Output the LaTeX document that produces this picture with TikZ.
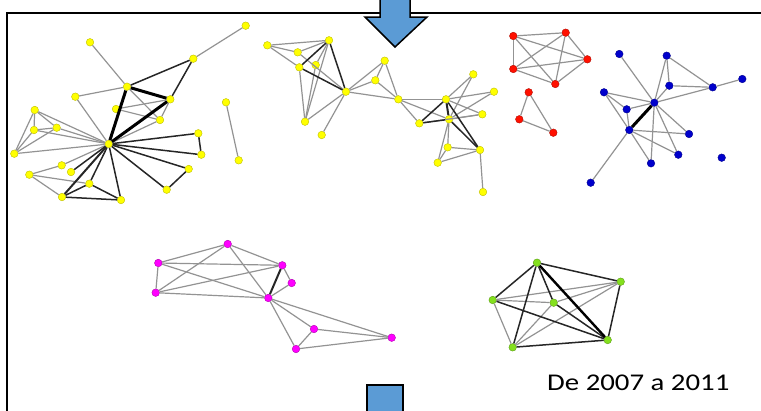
\documentclass[tikz,border=0pt]{standalone}
\usepackage{fontspec}
\setmainfont{Carlito}
\definecolor{arrowblue}{HTML}{5B9BD5}
\definecolor{edgegray}{HTML}{939393}
\definecolor{ygold}{HTML}{FFFF00}
\definecolor{nred}{HTML}{FF1000}
\definecolor{nblue}{HTML}{0000CC}
\definecolor{nmag}{HTML}{FF00FF}
\definecolor{ngreen}{HTML}{84E01E}
\tikzset{
  vtx/.style={circle,inner sep=0pt,minimum size=7.6pt,line width=0.4pt},
  yv/.style={vtx,fill=ygold,draw=ygold!75!black},
  rv/.style={vtx,fill=nred,draw=nred!70!black},
  bv/.style={vtx,fill=nblue,draw=nblue!70!black},
  mv/.style={vtx,fill=nmag,draw=nmag!70!black},
  gv/.style={vtx,fill=ngreen,draw=ngreen!70!black},
  ge/.style={draw=edgegray,line width=1.2pt},
  de/.style={draw=black!85,line width=1.5pt},
  te/.style={draw=black,line width=3pt},
  bluearrow/.style={fill=arrowblue,draw=black,line width=1.5pt,line join=miter},
}
\begin{document}
\begin{tikzpicture}[x=1pt,y=-1pt]
\useasboundingbox (0,0) rectangle (761,410);
\clip (0,0) rectangle (761,410);
% frame
\draw[line width=2.2pt] (7,430) -- (7,13) -- (780,13);
% top arrow
\draw[bluearrow] (380,-5) -- (380,17) -- (365,17) -- (395,47) -- (427,17) -- (410,17) -- (410,-5) -- cycle;
% bottom arrow stem
\draw[bluearrow] (367,430) -- (367,385) -- (403,385) -- (403,430);
% text
\node[anchor=base west,inner sep=0pt,font=\fontsize{24}{24}\selectfont] (lbl) at (547,390) {\scalebox{1.2}[1]{De 2007 a 2011}};

% ---------- left yellow cluster ----------
\node[yv] (a1) at (245.7,25.7) {};
\node[yv] (a2) at (193.3,58.7) {};
\node[yv] (a3) at (90,42.3) {};
\node[yv] (a4) at (127,86.7) {};
\node[yv] (a5) at (75.3,96.7) {};
\node[yv] (a6) at (170.3,99.3) {};
\node[yv] (a7) at (116,109) {};
\node[yv] (a8) at (160,120) {};
\node[yv] (a9) at (226,102.3) {};
\node[yv] (a10) at (238.7,160.3) {};
\node[yv] (a11) at (34.7,110) {};
\node[yv] (a12) at (34,130) {};
\node[yv] (a13) at (56.7,127.7) {};
\node[yv] (a14) at (14.3,153.7) {};
\node[yv] (h) at (108.7,144) {};
\node[yv] (a15) at (198.3,133.3) {};
\node[yv] (a16) at (201.3,154.7) {};
\node[yv] (a17) at (188.7,169) {};
\node[yv] (a18) at (166.7,189.7) {};
\node[yv] (a19) at (61.7,165.3) {};
\node[yv] (a20) at (71,172) {};
\node[yv] (a21) at (29.3,174.7) {};
\node[yv] (a22) at (89.3,183.7) {};
\node[yv] (a23) at (62,197) {};
\node[yv] (a24) at (121,200) {};
\foreach \u/\v in {a1/a2,a3/a4,a5/a4,a5/h,a4/a8,a7/a6,a7/a8,a6/a8,h/a8,a11/a12,a11/a14,a11/a13,a11/h,a12/a13,a12/h,a12/a14,a13/a14,a14/h,a13/h,a21/a19,a21/a23,a21/a22,a19/h,a9/a10}
  \draw[ge] (\u) -- (\v);
\foreach \u/\v in {a4/a2,a2/a6,a20/h,a22/h,a24/h,a22/a23,a23/a24,a22/a24,h/a15,h/a16,a15/a16,h/a17,h/a18,a17/a18}
  \draw[de] (\u) -- (\v);
\foreach \u/\v in {a4/a6,a4/h,a6/h}
  \draw[te] (\u) -- (\v);
\draw[de,line width=2pt] (a23) -- (h);

% ---------- middle yellow cluster ----------
\node[yv] (b1) at (267.3,45.3) {};
\node[yv] (b2) at (329,40.3) {};
\node[yv] (b3) at (297.7,52.3) {};
\node[yv] (b4) at (299.3,67.3) {};
\node[yv] (b5) at (315.7,65) {};
\node[yv] (b6) at (346,91.7) {};
\node[yv] (b7) at (305,121.7) {};
\node[yv] (b8) at (321.7,135) {};
\node[yv] (b9) at (384.7,60.7) {};
\node[yv] (b10) at (375.3,80.3) {};
\node[yv] (b11) at (398.3,99.3) {};
\node[yv] (b12) at (446,99.3) {};
\node[yv] (b13) at (419.3,123.3) {};
\node[yv] (b14) at (449,119.3) {};
\node[yv] (b15) at (473.3,74.3) {};
\node[yv] (b16) at (494,91.7) {};
\node[yv] (b17) at (482.3,114.3) {};
\node[yv] (b18) at (447.7,147.3) {};
\node[yv] (b19) at (480,150) {};
\node[yv] (b20) at (437.7,162.7) {};
\node[yv] (b21) at (483,192) {};
\foreach \u/\v in {b1/b2,b1/b3,b1/b4,b3/b2,b5/b2,b3/b6,b4/b7,b5/b7,b2/b7,b7/b6,b8/b6,b6/b9,b6/b10,b6/b11,b9/b10,b9/b11,b10/b11,b11/b12,b11/b13,b11/b14,b12/b15,b12/b16,b12/b17,b14/b15,b14/b16,b14/b17,b13/b17,b14/b18,b14/b20,b18/b19,b20/b19,b18/b20,b19/b21}
  \draw[ge] (\u) -- (\v);
\foreach \u/\v in {b4/b2,b2/b6,b4/b6,b12/b13,b13/b14,b12/b19,b14/b19}
  \draw[de] (\u) -- (\v);
\draw[de,line width=2pt] (b12) -- (b14);

% ---------- red ----------
\node[rv] (r1) at (513.3,36) {};
\node[rv] (r2) at (565.7,32.7) {};
\node[rv] (r3) at (587.3,59.3) {};
\node[rv] (r4) at (513.3,69) {};
\node[rv] (r5) at (555.3,84) {};
\node[rv] (r6) at (528.7,92.3) {};
\node[rv] (r7) at (519.3,119.3) {};
\node[rv] (r8) at (553.3,132.7) {};
\foreach \u/\v in {r1/r2,r1/r3,r1/r4,r1/r5,r2/r3,r2/r4,r2/r5,r3/r4,r3/r5,r4/r5,r6/r7,r7/r8,r6/r8}
  \draw[ge] (\u) -- (\v);

% ---------- blue ----------
\node[bv] (u1) at (619.3,54) {};
\node[bv] (u2) at (666.7,55.7) {};
\node[bv] (u3) at (669.3,85.7) {};
\node[bv] (u4) at (712.7,87.3) {};
\node[bv] (u5) at (742.3,79) {};
\node[bv] (u6) at (604,92.3) {};
\node[bv] (u7) at (654.3,102.7) {};
\node[bv] (u8) at (626.7,109.3) {};
\node[bv] (u9) at (629.3,130) {};
\node[bv] (u10) at (689,134) {};
\node[bv] (u11) at (678.3,154.7) {};
\node[bv] (u12) at (651,163.3) {};
\node[bv] (u13) at (721.7,157.7) {};
\node[bv] (u14) at (590.7,182.7) {};
\foreach \u/\v in {u1/u7,u2/u7,u2/u3,u2/u4,u3/u4,u3/u7,u4/u7,u4/u5,u6/u7,u6/u8,u6/u9,u8/u7,u8/u9,u9/u10,u7/u10,u9/u11,u7/u11,u9/u12,u7/u12,u9/u14}
  \draw[ge] (\u) -- (\v);
\draw[te] (u7) -- (u9);

% ---------- magenta ----------
\node[mv] (m1) at (227.7,244) {};
\node[mv] (m2) at (158.3,263) {};
\node[mv] (m3) at (282.3,265.3) {};
\node[mv] (m4) at (291.7,283) {};
\node[mv] (m5) at (155.7,292.7) {};
\node[mv] (m6) at (268.3,298) {};
\node[mv] (m7) at (314,329) {};
\node[mv] (m8) at (391.7,337.7) {};
\node[mv] (m9) at (296,349) {};
\foreach \u/\v in {m2/m1,m2/m3,m2/m5,m2/m6,m5/m1,m5/m3,m5/m6,m1/m3,m1/m6,m3/m4,m4/m6,m6/m7,m6/m8,m6/m9,m7/m8,m7/m9,m9/m8}
  \draw[ge] (\u) -- (\v);
\draw[de,line width=2pt] (m3) -- (m6);

% ---------- green ----------
\node[gv] (g1) at (537,262.7) {};
\node[gv] (g2) at (620.7,281.7) {};
\node[gv] (g3) at (492.7,300) {};
\node[gv] (g4) at (553.7,302.7) {};
\node[gv] (g5) at (607.7,340) {};
\node[gv] (g6) at (512.7,347.3) {};
\foreach \u/\v in {g3/g2,g3/g4,g3/g6,g6/g2,g6/g4,g4/g2}
  \draw[ge] (\u) -- (\v);
\foreach \u/\v in {g1/g3,g1/g2,g1/g6,g1/g4,g3/g5,g6/g5,g2/g5,g4/g5}
  \draw[de] (\u) -- (\v);
\draw[te,line width=2.4pt] (g1) -- (g5);
\end{tikzpicture}
\end{document}
